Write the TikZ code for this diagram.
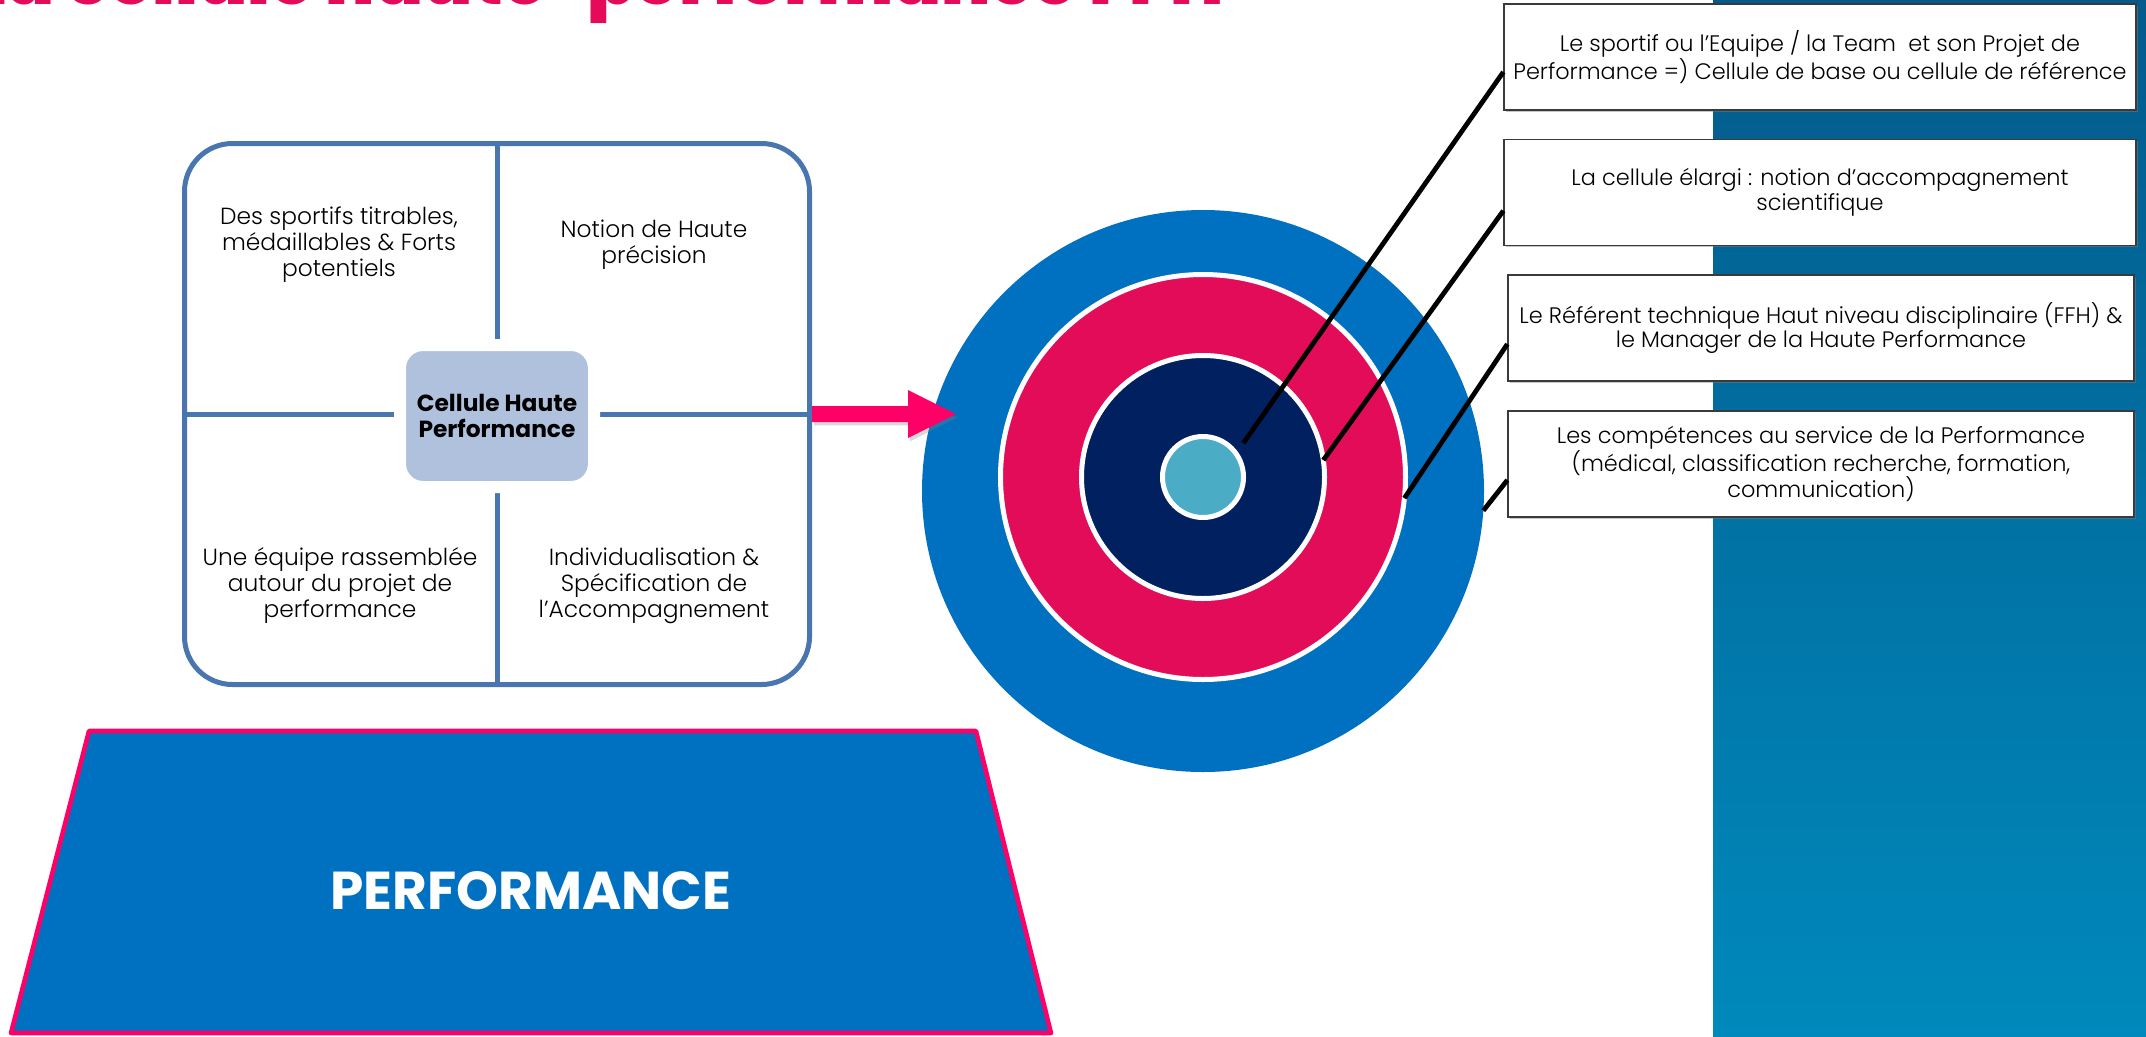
\documentclass[tikz,border=0pt]{standalone}
\usepackage{fontspec}
\setmainfont{Poppins Light}
\newfontfamily\popfont{Poppins}
\newfontfamily\popblack{Poppins Black}
\usetikzlibrary{calc,shadows}
\definecolor{titlered}{HTML}{E60A5A}
\definecolor{ringred}{HTML}{E30C58}
\definecolor{navyc}{HTML}{002060}
\definecolor{bigblue}{HTML}{0070C0}
\definecolor{tealc}{HTML}{4BACC6}
\definecolor{steel}{HTML}{4A76AF}
\definecolor{cellfill}{HTML}{B0C1DE}
\definecolor{hotpink}{HTML}{FF0066}
\definecolor{paneltop}{HTML}{035A8B}
\definecolor{panelbot}{HTML}{0089BC}
\definecolor{boxgray}{HTML}{3A3A3A}
\begin{document}
\begin{tikzpicture}[x=0.75pt,y=-0.75pt,
  every node/.style={inner sep=0pt},
  quad/.style={align=center, font=\fontsize{17.5pt}{19.5pt}\selectfont},
  infobox/.style={draw=boxgray, line width=1pt, fill=white, align=center,
    minimum height=106*0.75pt,
    font=\fontsize{16.8pt}{18.5pt}\selectfont,
    drop shadow={shadow xshift=1.2pt,shadow yshift=-1.2pt,opacity=0.45}},
  ring/.style={circle, draw=white, line width=3.75pt, inner sep=0pt, outer sep=0pt},
  conn/.style={black, line width=3.6pt},
  divider/.style={steel, line width=3.75pt}]
\useasboundingbox (0,0) rectangle (2146,1036);
\fill[white] (0,0) rectangle (2146,1036);
\shade[top color=paneltop, bottom color=panelbot] (1713,0) rectangle (2146,1036);

% title (cut by the top edge)
\node[anchor=base east, text=titlered, font=\popblack\fontsize{53pt}{53pt}\selectfont] (title) at (1224,4) {La cellule haute-performance FFH};

% quadrant box
\node[draw=steel, line width=3.75pt, rounded corners=36pt,
  minimum width=625*0.75pt, minimum height=541*0.75pt] (outer) at (497,414) {};
\draw[divider] (outer.north) -- (outer.south);
\draw[divider] (outer.west) -- (outer.east);
\node[fill=cellfill, draw=white, line width=9pt, rounded corners=17.25pt,
  minimum width=194*0.75pt, minimum height=142*0.75pt, align=center,
  font=\popfont\bfseries\fontsize{17.5pt}{19.5pt}\selectfont] (cell) at (497,416) {Cellule Haute\\Performance};

\node[quad] (q1) at (339,245) {Des sportifs titrables,\\médaillables \& Forts\\potentiels};
\node[quad] (q2) at (654,245) {Notion de Haute\\précision};
\node[quad] (q3) at (340,586) {Une équipe rassemblée\\autour du projet de\\performance};
\node[quad] (q4) at (654,586) {Individualisation \&\\Spécification de\\l’Accompagnement};

% target
\node[circle, fill=bigblue, minimum size=562*0.75pt, inner sep=0pt, outer sep=0pt] (big) at (1203,491) {};
\node[ring, fill=ringred, minimum size=405*0.75pt] (red) at (1203,477) {};
\node[ring, fill=navyc, minimum size=243*0.75pt] (navy) at (1203,477) {};
\node[ring, fill=tealc, minimum size=81*0.75pt] (teal) at (1203,477) {};

% arrow
\path[fill=hotpink, drop shadow={shadow xshift=1.5pt,shadow yshift=-2.5pt,opacity=0.3}]
  ($(outer.east)+(0,-8)$) -- ++(96,0) -- ++(0,-16) -- ++(48,24) -- ++(-48,24) -- ++(0,-16) -- ++(-96,0) -- cycle;

% right boxes
\node[infobox, minimum width=632*0.75pt] (b1) at (1820,57) {Le sportif ou l’Equipe / la Team~ et son Projet de\\Performance =) Cellule de base ou cellule de référence};
\node[infobox, minimum width=632*0.75pt] (b2) at (1820,192.5) {La cellule élargi : notion d’accompagnement\\scientifique};
\node[infobox, minimum width=626*0.75pt] (b3) at (1821,328) {Le Référent technique Haut niveau disciplinaire (FFH) \&\\le Manager de la Haute Performance};
\node[infobox, minimum width=626*0.75pt] (b4) at (1821,464) {Les compétences au service de la Performance\\(médical, classification recherche, formation,\\communication)};

% connectors
\draw[conn] ($(teal.center)!1.3!(teal.40)$) -- ($(b1.north west)!0.64!(b1.south west)$);
\draw[conn] (navy.8) -- ($(b2.north west)!0.67!(b2.south west)$);
\draw[conn] (red.-6) -- ($(b3.north west)!0.65!(b3.south west)$);
\draw[conn] (big.-4.5) -- ($(b4.north west)!0.65!(b4.south west)$);

% base
\draw[draw=hotpink, fill=bigblue, line width=3.4pt, line join=round] (89,731) -- (976,731) -- (1051,1033) -- (11,1033) -- cycle;
\node[text=white, font=\popfont\bfseries\fontsize{40pt}{40pt}\selectfont] (perf) at (531,891) {PERFORMANCE};
\end{tikzpicture}
\end{document}
